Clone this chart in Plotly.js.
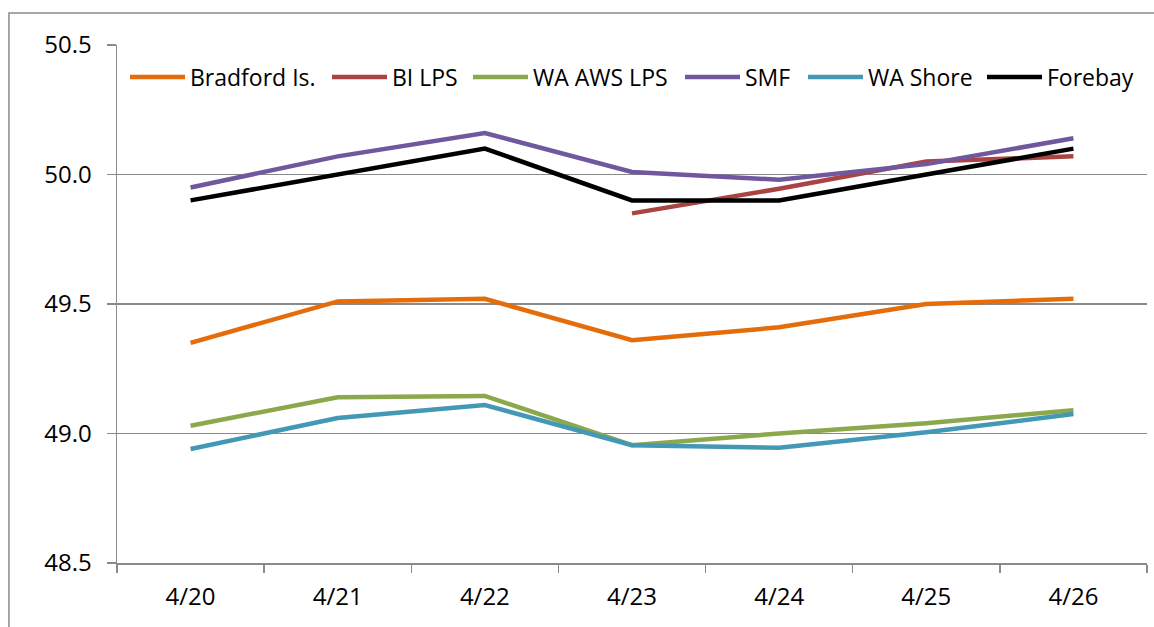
<!DOCTYPE html>
<html>
<head>
<meta charset="utf-8">
<script src="https://cdn.plot.ly/plotly-3.0.1.min.js"></script>
<style>html,body{margin:0;padding:0;background:#fff;}#chart{width:1154px;height:627px;}</style>
</head>
<body>
<div id="chart"></div>
<script>
const dates = ["4/20", "4/21", "4/22", "4/23", "4/24", "4/25", "4/26"];
const bradford = [49.35, 49.51, 49.52, 49.36, 49.41, 49.50, 49.52];
const biLps = [null, null, null, 49.85, 49.945, 50.05, 50.07];
const waAwsLps = [49.03, 49.14, 49.145, 48.955, 49.00, 49.04, 49.09];
const smf = [49.95, 50.07, 50.16, 50.01, 49.98, 50.04, 50.14];
const waShore = [48.94, 49.06, 49.11, 48.955, 48.945, 49.005, 49.075];
const forebay = [49.9, 50.0, 50.1, 49.9, 49.9, 50.0, 50.1];

const seriesNames = ["Bradford Is.", "BI LPS", "WA AWS LPS", "SMF", "WA Shore", "Forebay"];
const seriesValues = [bradford, biLps, waAwsLps, smf, waShore, forebay];
const seriesColors = ["#E46C0A", "#AA4442", "#8BA84C", "#71589E", "#4398B5", "#000000"];
const legendIds = ["legend", "legend2", "legend3", "legend4", "legend5", "legend6"];
// left pixel position of each legend entry
const legendLeftPx = [125, 327, 468, 680, 803, 982];

const traces = seriesNames.map((n, i) => ({
  type: "scatter", mode: "lines", name: n, x: dates, y: seriesValues[i],
  line: {color: seriesColors[i], width: 4.5}, connectgaps: false, legend: legendIds[i]
}));

const gray = "#8a8a8a";
const plotL = 117, plotW = 1030;
const layout = {
  width: 1154, height: 627,
  margin: {l: plotL, r: 7, t: 45, b: 64, pad: 0},
  paper_bgcolor: "#fff", plot_bgcolor: "#fff",
  font: {family: "Open Sans, sans-serif", size: 24, color: "#000"},
  showlegend: true,
  xaxis: {type: "category", range: [-0.5, 6.5], showgrid: false, showline: true, linecolor: gray, linewidth: 1.5,
          ticks: "outside", tickson: "boundaries", ticklen: 8, tickcolor: gray, tickwidth: 1.5,
          tickfont: {size: 24}, ticklabelstandoff: 12, fixedrange: true, zeroline: false},
  yaxis: {range: [48.5, 50.5], dtick: 0.5, tick0: 48.5, tickformat: ".1f", showgrid: true, gridcolor: gray, gridwidth: 1.5,
          showline: true, linecolor: gray, linewidth: 1.5, ticks: "outside", ticklen: 9, tickcolor: gray, tickwidth: 1.5,
          tickfont: {size: 24}, ticklabelstandoff: 10, zeroline: false, fixedrange: true},
  shapes: [{type: "rect", xref: "paper", yref: "paper", x0: -0.1049, x1: 1.2, y0: -0.3, y1: 1.0618,
            line: {color: gray, width: 1.5}, fillcolor: "rgba(0,0,0,0)", layer: "below"}]
};
legendIds.forEach((id, i) => {
  layout[id] = {orientation: "h", x: (legendLeftPx[i] - plotL) / plotW, xanchor: "left", y: 0.938, yanchor: "middle",
                font: {size: 23, color: "#000"}, bgcolor: "rgba(0,0,0,0)", itemwidth: 55, borderwidth: 0};
});
Plotly.newPlot("chart", traces, layout, {displayModeBar: false, staticPlot: true});
</script>
</body>
</html>
